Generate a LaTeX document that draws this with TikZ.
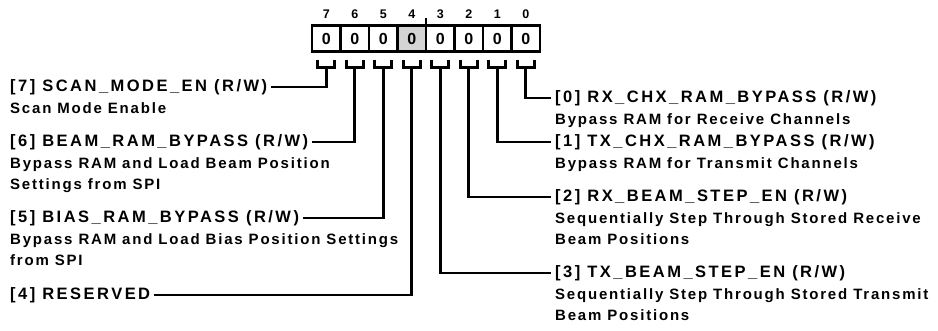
\documentclass[tikz,border=0pt]{standalone}
\usepackage{fontspec}
\setmainfont{Liberation Sans}
\newfontfamily\namefont[LetterSpace=15]{Liberation Sans}
\newfontfamily\descfont[LetterSpace=12]{Liberation Sans}
\usetikzlibrary{positioning}
\tikzset{
    bitcell/.style={
        rectangle,
        draw=black,
        line width=2.8pt,
        minimum width=28.5pt,
        minimum height=26.5pt,
        inner sep=0pt,
        outer sep=0pt,
        fill=white,
        font=\bfseries\fontsize{16}{16}\selectfont
    },
    bitnum/.style={
        inner sep=0pt,
        font=\bfseries\fontsize{12.5}{12.5}\selectfont
    },
    wire/.style={
        draw=black,
        line width=2.8pt
    }
}

\begin{document}
\begin{tikzpicture}[x=1pt, y=-1pt,
    fieldname/.style={font=\namefont\bfseries\fontsize{16.5}{18}\selectfont, inner xsep=4pt, inner ysep=0pt},
    fielddesc/.style={font=\descfont\bfseries\fontsize{15}{21}\selectfont, align=left, inner sep=0pt}
]
\useasboundingbox (0,0) rectangle (938,331);

% register cells, bit 7 left
\node[bitcell] (c7) at (326.25,38.5) {0};
\node[bitcell, right=0pt of c7] (c6) {0};
\node[bitcell, right=0pt of c6] (c5) {0};
\node[bitcell, right=0pt of c5, fill=black!17] (c4) {0};
\node[bitcell, right=0pt of c4] (c3) {0};
\node[bitcell, right=0pt of c3] (c2) {0};
\node[bitcell, right=0pt of c2] (c1) {0};
\node[bitcell, right=0pt of c1] (c0) {0};

% bit numbers
\node[bitnum, above=6.5pt of c7] (n7) {7};
\node[bitnum, above=6.5pt of c6] (n6) {6};
\node[bitnum, above=6.5pt of c5] (n5) {5};
\node[bitnum, above=6.5pt of c4] (n4) {4};
\node[bitnum, above=6.5pt of c3] (n3) {3};
\node[bitnum, above=6.5pt of c2] (n2) {2};
\node[bitnum, above=6.5pt of c1] (n1) {1};
\node[bitnum, above=6.5pt of c0] (n0) {0};
\draw[wire] (c4.north east) -- ++(0,-7);

% brackets under the cells
\draw[wire] ([xshift=-8.5pt,yshift=-8pt]c7.south) -- ++(0,8) -- ++(17,0) -- ++(0,-8);
\draw[wire] ([xshift=-8.5pt,yshift=-8pt]c6.south) -- ++(0,8) -- ++(17,0) -- ++(0,-8);
\draw[wire] ([xshift=-8.5pt,yshift=-8pt]c5.south) -- ++(0,8) -- ++(17,0) -- ++(0,-8);
\draw[wire] ([xshift=-8.5pt,yshift=-8pt]c4.south) -- ++(0,8) -- ++(17,0) -- ++(0,-8);
\draw[wire] ([xshift=-8.5pt,yshift=-8pt]c3.south) -- ++(0,8) -- ++(17,0) -- ++(0,-8);
\draw[wire] ([xshift=-8.5pt,yshift=-8pt]c2.south) -- ++(0,8) -- ++(17,0) -- ++(0,-8);
\draw[wire] ([xshift=-8.5pt,yshift=-8pt]c1.south) -- ++(0,8) -- ++(17,0) -- ++(0,-8);
\draw[wire] ([xshift=-8.5pt,yshift=-8pt]c0.south) -- ++(0,8) -- ++(17,0) -- ++(0,-8);
\coordinate (k7) at ([yshift=-16pt]c7.south);
\coordinate (k6) at ([yshift=-16pt]c6.south);
\coordinate (k5) at ([yshift=-16pt]c5.south);
\coordinate (k4) at ([yshift=-16pt]c4.south);
\coordinate (k3) at ([yshift=-16pt]c3.south);
\coordinate (k2) at ([yshift=-16pt]c2.south);
\coordinate (k1) at ([yshift=-16pt]c1.south);
\coordinate (k0) at ([yshift=-16pt]c0.south);

% left side fields
\node[fieldname, anchor=west] (t7) at (6,87) {[7] SCAN\_MODE\_EN (R/W)};
\node[fielddesc, below right=8pt and 4pt of t7.south west] (d7) {Scan Mode Enable};
\node[fieldname, anchor=west] (t6) at (6,142) {[6] BEAM\_RAM\_BYPASS (R/W)};
\node[fielddesc, below right=8pt and 4pt of t6.south west] (d6) {Bypass RAM and Load Beam Position\\Settings from SPI};
\node[fieldname, anchor=west] (t5) at (6,218) {[5] BIAS\_RAM\_BYPASS (R/W)};
\node[fielddesc, below right=8pt and 4pt of t5.south west] (d5) {Bypass RAM and Load Bias Position Settings\\from SPI};
\node[fieldname, anchor=west] (t4) at (6,295) {[4] RESERVED};

% right side fields
\node[fieldname, anchor=west] (t0) at (551,98) {[0] RX\_CHX\_RAM\_BYPASS (R/W)};
\node[fielddesc, below right=8pt and 4pt of t0.south west] (d0) {Bypass RAM for Receive Channels};
\node[fieldname, anchor=west] (t1) at (551,142) {[1] TX\_CHX\_RAM\_BYPASS (R/W)};
\node[fielddesc, below right=8pt and 4pt of t1.south west] (d1) {Bypass RAM for Transmit Channels};
\node[fieldname, anchor=west] (t2) at (551,197) {[2] RX\_BEAM\_STEP\_EN (R/W)};
\node[fielddesc, below right=8pt and 4pt of t2.south west] (d2) {Sequentially Step Through Stored Receive\\Beam Positions};
\node[fieldname, anchor=west] (t3) at (551,273) {[3] TX\_BEAM\_STEP\_EN (R/W)};
\node[fielddesc, below right=8pt and 4pt of t3.south west] (d3) {Sequentially Step Through Stored Transmit\\Beam Positions};

% connectors
\draw[wire] (k7) |- (t7.east);
\draw[wire] (k6) |- (t6.east);
\draw[wire] (k5) |- (t5.east);
\draw[wire] (k4) |- (t4.east);
\draw[wire] (k0) |- (t0.west);
\draw[wire] (k1) |- (t1.west);
\draw[wire] (k2) |- (t2.west);
\draw[wire] (k3) |- (t3.west);

\end{tikzpicture}
\end{document}
